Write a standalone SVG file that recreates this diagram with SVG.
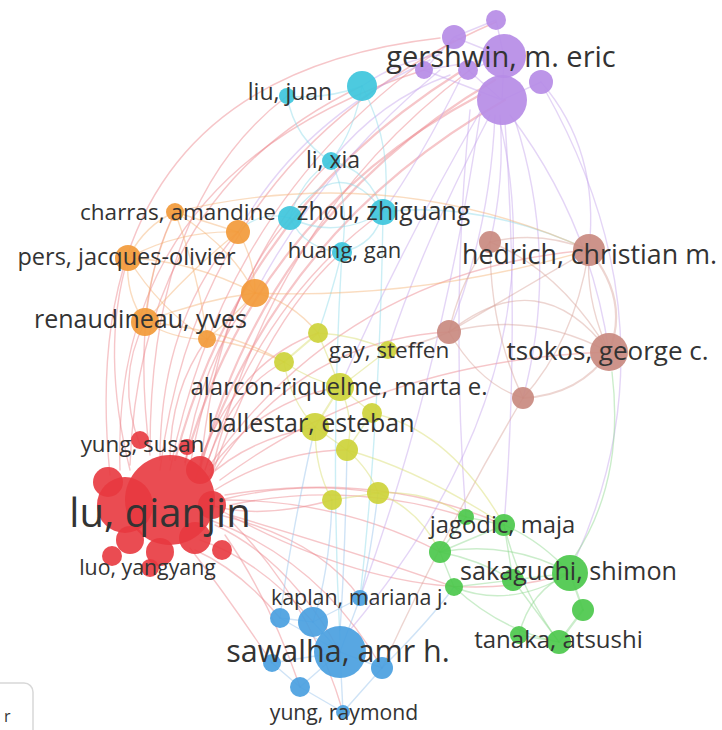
<svg xmlns="http://www.w3.org/2000/svg" width="722" height="730" viewBox="0 0 722 730">
<style>
  .e{fill:none;stroke-width:1.4;stroke-opacity:.45;stroke-linecap:round}
  .er{stroke:#ec8088}.ep{stroke:#c4a2ea}.ec{stroke:#8cdae8}.eo{stroke:#f4b274}
  .eb{stroke:#d8a29a}.ey{stroke:#d8dc6a}.eg{stroke:#8cd88c}.eu{stroke:#94c2ea}
  .w{stroke-width:2.2}
  .nr{fill:#e8393f;fill-opacity:.9}.np{fill:#b68ce6;fill-opacity:.92}.nc{fill:#3ec6dc;fill-opacity:.92}
  .no{fill:#f29a3a;fill-opacity:.92}.nb{fill:#c98a80;fill-opacity:.92}.ny{fill:#cdd33a;fill-opacity:.92}
  .ng{fill:#4cc84c;fill-opacity:.92}.nu{fill:#4a9fe0;fill-opacity:.92}
  text{font-family:"Open Sans","Liberation Sans",sans-serif;fill:#333333;text-anchor:middle}
</style>
<rect width="722" height="730" fill="#ffffff"/>
<g id="edges">
  <!-- red to purple -->
  <path class="e er w" d="M185 462 Q254 215 480 95"/>
  <path class="e er w" d="M200 470 Q265 215 495 80"/>
  <path class="e er w" d="M175 460 Q240 210 460 72"/>
  <path class="e er w" d="M195 480 Q275 230 505 100"/>
  <path class="e er" d="M210 478 Q270 220 470 70"/>
  <path class="e er" d="M170 470 Q225 190 454 40"/>
  <path class="e er" d="M160 470 Q200 150 496 22"/>
  <path class="e er" d="M110 475 Q70 80 440 38"/>
  <path class="e er" d="M120 470 Q110 170 424 70"/>
  <path class="e er" d="M130 465 Q140 190 362 86"/>
  <!-- red to cyan -->
  <path class="e er" d="M150 450 Q150 200 287 96"/>
  <path class="e er" d="M190 465 Q230 260 331 161"/>
  <path class="e er" d="M200 475 Q215 300 290 218"/>
  <path class="e er" d="M205 470 Q260 300 383 212"/>
  <path class="e er" d="M210 480 Q265 320 342 252"/>
  <!-- red to orange -->
  <path class="e er" d="M140 445 Q115 380 145 322"/>
  <path class="e er" d="M170 460 Q170 390 207 339"/>
  <path class="e er" d="M185 465 Q200 360 255 293"/>
  <path class="e er" d="M160 460 Q160 320 238 232"/>
  <path class="e er" d="M130 470 Q100 350 128 258"/>
  <path class="e er" d="M150 455 Q130 300 175 212"/>
  <!-- red to yellow -->
  <path class="e er" d="M205 480 Q245 440 315 427"/>
  <path class="e er" d="M210 470 Q260 400 340 387"/>
  <path class="e er" d="M200 460 Q240 360 318 333"/>
  <path class="e er" d="M205 470 Q230 390 284 362"/>
  <path class="e er" d="M215 490 Q280 450 347 450"/>
  <path class="e er" d="M220 500 Q300 480 378 493"/>
  <path class="e er" d="M210 505 Q260 520 332 500"/>
  <!-- red to brown -->
  <path class="e er" d="M215 470 Q300 340 449 332"/>
  <path class="e er" d="M220 480 Q380 360 609 352"/>
  <path class="e er" d="M210 465 Q350 270 589 250"/>
  <!-- red to blue -->
  <path class="e er" d="M215 525 Q290 560 340 652"/>
  <path class="e er" d="M200 540 Q260 560 313 622"/>
  <path class="e er" d="M195 550 Q240 570 280 618"/>
  <path class="e er" d="M225 535 Q270 600 300 687"/>
  <path class="e er" d="M210 520 Q320 560 382 668"/>
  <path class="e er" d="M220 515 Q320 540 360 598"/>
  <path class="e er" d="M190 548 Q230 600 272 663"/>
  <path class="e er" d="M230 520 Q310 600 343 712"/>
  <!-- red to green -->
  <path class="e er" d="M225 500 Q340 500 440 552"/>
  <path class="e er" d="M225 495 Q380 470 504 525"/>
  <path class="e er" d="M220 510 Q420 620 570 573"/>
  <path class="e er" d="M230 505 Q350 480 466 517"/>
  <path class="e er" d="M230 515 Q380 560 454 587"/>
  <!-- purple -->
  <path class="e ep" d="M496 20 L504 57 M454 37 L504 57 M424 70 L504 57 M468 70 L504 57 M504 57 L502 100 M541 82 L502 100 M424 70 L502 100 M468 70 L502 100 M454 37 L424 70 M496 20 L454 37"/>
  <path class="e ep" d="M510 115 Q590 220 609 352"/>
  <path class="e ep" d="M541 82 Q600 150 589 250"/>
  <path class="e ep" d="M500 115 Q505 180 490 242"/>
  <path class="e ep" d="M495 115 Q490 230 449 332"/>
  <path class="e ep" d="M515 120 Q560 260 523 398"/>
  <path class="e ep" d="M545 90 Q680 330 575 560"/>
  <path class="e ep" d="M470 110 Q450 310 466 517"/>
  <path class="e ep" d="M505 122 Q520 330 504 525"/>
  <path class="e ep" d="M500 122 Q560 380 350 630"/>
  <path class="e ep" d="M480 115 Q440 380 360 598"/>
  <path class="e ep" d="M490 115 Q420 250 388 350"/>
  <path class="e ep" d="M480 112 Q400 250 340 387"/>
  <path class="e ep" d="M440 55 Q400 60 362 86"/>
  <path class="e ep" d="M460 80 Q420 160 383 212"/>
  <path class="e ep" d="M450 75 Q380 100 331 161"/>
  <path class="e ep" d="M430 60 Q300 120 238 232"/>
  <path class="e ep" d="M440 70 Q320 170 255 293"/>
  <!-- cyan -->
  <path class="e ec" d="M287 96 Q325 100 362 86"/>
  <path class="e ec" d="M287 96 Q295 140 331 161"/>
  <path class="e ec" d="M362 86 Q355 130 331 161"/>
  <path class="e ec" d="M331 161 Q300 180 290 218"/>
  <path class="e ec" d="M331 161 Q370 170 383 212"/>
  <path class="e ec" d="M290 218 Q335 240 383 212"/>
  <path class="e ec" d="M290 218 Q305 250 342 252"/>
  <path class="e ec" d="M383 212 Q375 245 342 252"/>
  <path class="e ec" d="M362 86 Q395 150 383 212"/>
  <path class="e ec" d="M331 161 Q350 200 342 252"/>
  <path class="e ec" d="M290 218 Q340 150 383 212"/>
  <path class="e ec" d="M342 252 Q330 450 340 640"/>
  <path class="e ec" d="M383 212 Q380 420 360 598"/>
  <path class="e ec" d="M290 218 Q260 210 238 232"/>
  <path class="e ec" d="M383 212 Q480 200 589 250"/>
  <path class="e ec" d="M342 252 Q330 300 318 333"/>
  <!-- orange -->
  <path class="e eo" d="M175 212 L238 232"/>
  <path class="e eo" d="M175 212 Q145 225 128 258"/>
  <path class="e eo" d="M175 212 Q150 265 145 322"/>
  <path class="e eo" d="M128 258 Q125 295 145 322"/>
  <path class="e eo" d="M238 232 Q180 230 128 258"/>
  <path class="e eo" d="M238 232 Q190 270 145 322"/>
  <path class="e eo" d="M128 258 Q160 310 207 339"/>
  <path class="e eo" d="M145 322 Q175 340 207 339"/>
  <path class="e eo" d="M255 293 Q230 320 207 339"/>
  <path class="e eo" d="M238 232 Q255 260 255 293"/>
  <path class="e eo" d="M175 212 Q200 280 207 339"/>
  <path class="e eo" d="M255 293 Q200 300 145 322"/>
  <path class="e eo" d="M175 212 Q230 245 255 293"/>
  <path class="e eo" d="M128 258 Q190 260 255 293"/>
  <path class="e eo" d="M255 293 Q420 300 589 250"/>
  <path class="e eo" d="M175 212 Q390 160 589 250"/>
  <path class="e eo" d="M207 339 Q250 345 284 362"/>
  <path class="e eo" d="M255 293 Q290 300 318 333"/>
  <path class="e eo" d="M145 322 Q230 330 284 362"/>
  <!-- brown -->
  <path class="e eb" d="M490 242 Q540 230 589 250"/>
  <path class="e eb" d="M490 242 Q560 270 609 352"/>
  <path class="e eb w" d="M589 250 Q630 300 609 352"/>
  <path class="e eb" d="M589 250 Q585 300 609 352"/>
  <path class="e eb" d="M449 332 Q520 290 589 250"/>
  <path class="e eb" d="M449 332 Q530 310 609 352"/>
  <path class="e eb" d="M449 332 Q540 260 609 352"/>
  <path class="e eb" d="M449 332 Q480 385 523 398"/>
  <path class="e eb w" d="M523 398 Q580 395 609 352"/>
  <path class="e eb" d="M490 242 Q490 330 523 398"/>
  <path class="e eb" d="M589 250 Q575 340 523 398"/>
  <path class="e eb" d="M490 242 Q460 280 449 332"/>
  <path class="e eb" d="M449 332 Q420 345 388 350"/>
  <path class="e eb" d="M523 398 Q450 520 382 668"/>
  <!-- yellow -->
  <path class="e ey w" d="M318 333 L284 362"/>
  <path class="e ey" d="M318 333 L340 387"/>
  <path class="e ey" d="M284 362 Q310 380 340 387"/>
  <path class="e ey" d="M388 350 L340 387"/>
  <path class="e ey w" d="M340 387 L315 427"/>
  <path class="e ey" d="M340 387 L372 413"/>
  <path class="e ey" d="M315 427 L347 450"/>
  <path class="e ey" d="M372 413 L347 450"/>
  <path class="e ey" d="M347 450 Q370 470 378 493"/>
  <path class="e ey" d="M332 500 L378 493"/>
  <path class="e ey" d="M315 427 Q315 470 332 500"/>
  <path class="e ey" d="M340 387 Q355 420 347 450"/>
  <path class="e ey" d="M284 362 Q290 400 315 427"/>
  <path class="e ey" d="M318 333 Q355 335 388 350"/>
  <path class="e ey" d="M378 493 Q420 510 440 552"/>
  <path class="e ey" d="M378 493 Q430 490 466 517"/>
  <path class="e ey" d="M347 450 Q420 470 504 525"/>
  <path class="e ey" d="M372 413 Q450 430 504 525"/>
  <!-- green -->
  <path class="e eg" d="M466 517 L504 525"/>
  <path class="e eg" d="M466 517 L440 552"/>
  <path class="e eg" d="M504 525 L440 552"/>
  <path class="e eg" d="M440 552 Q480 560 513 580"/>
  <path class="e eg" d="M504 525 L513 580"/>
  <path class="e eg" d="M513 580 L570 573"/>
  <path class="e eg" d="M440 552 L454 587"/>
  <path class="e eg" d="M454 587 L513 580"/>
  <path class="e eg w" d="M570 573 L583 610"/>
  <path class="e eg w" d="M583 610 L559 642"/>
  <path class="e eg" d="M519 635 L559 642"/>
  <path class="e eg" d="M513 580 L559 642"/>
  <path class="e eg" d="M570 573 Q530 590 519 635"/>
  <path class="e eg" d="M504 525 Q540 540 570 573"/>
  <path class="e eg" d="M454 587 Q500 630 559 642"/>
  <path class="e eg" d="M504 525 Q520 590 559 642"/>
  <path class="e eg" d="M440 552 Q510 540 570 573"/>
  <path class="e eg" d="M454 587 Q510 610 570 573"/>
  <path class="e eg" d="M612 372 Q625 480 575 556"/>
  <!-- blue -->
  <path class="e eu" d="M360 598 L340 652"/>
  <path class="e eu" d="M280 618 L313 622"/>
  <path class="e eu" d="M313 622 L340 652"/>
  <path class="e eu" d="M280 618 L340 652"/>
  <path class="e eu" d="M340 652 L272 663"/>
  <path class="e eu" d="M340 652 L382 668"/>
  <path class="e eu" d="M340 652 L300 687"/>
  <path class="e eu" d="M300 687 L343 712"/>
  <path class="e eu" d="M340 652 L343 712"/>
  <path class="e eu" d="M272 663 L300 687"/>
  <path class="e eu" d="M382 668 L343 712"/>
  <path class="e eu" d="M360 598 L313 622"/>
  <path class="e eu" d="M332 500 Q330 570 313 622"/>
  <path class="e eu" d="M347 450 Q345 560 340 630"/>
  <path class="e eu" d="M378 493 Q370 560 360 598"/>
  <path class="e eu" d="M315 427 Q290 540 280 618"/>
  <path class="e eu" d="M382 668 Q430 620 454 587"/>
</g>

<g id="bottom-widget">
  <rect x="-20" y="683" width="53" height="70" rx="9" fill="#ffffff" stroke="#d8d8d8" stroke-width="1.5"/>
  <text x="4" y="722" font-size="16" style="text-anchor:start">r</text>
</g>

<g id="n-purple-other">
  <circle class="np" cx="496" cy="20" r="10"/>
  <circle class="np" cx="454" cy="37" r="12"/>
  <circle class="np" cx="424" cy="70" r="9"/>
  <circle class="np" cx="468" cy="70" r="10"/>
  <circle class="np" cx="541" cy="82" r="12"/>
  <circle class="np" cx="502" cy="100" r="25"/>
</g>
<g id="n-gershwin">
  <circle class="np" cx="504" cy="56" r="22"/>
  <text x="501" y="67" font-size="29">gershwin, m. eric</text>
</g>

<g id="n-cyan-other">
  <circle class="nc" cx="362" cy="86" r="15"/>
  <circle class="nc" cx="290" cy="218" r="12"/>
</g>
<g id="n-liu-juan">
  <circle class="nc" cx="287" cy="96" r="8"/>
  <text x="290" y="100" font-size="23">liu, juan</text>
</g>
<g id="n-li-xia">
  <circle class="nc" cx="331" cy="161" r="9"/>
  <text x="333" y="168" font-size="23">li, xia</text>
</g>
<g id="n-zhou-zhiguang">
  <circle class="nc" cx="383" cy="212" r="13"/>
  <text x="383.5" y="220" font-size="24.7">zhou, zhiguang</text>
</g>
<g id="n-huang-gan">
  <circle class="nc" cx="342" cy="252" r="10"/>
  <text x="344.5" y="258" font-size="22">huang, gan</text>
</g>

<g id="n-orange-other">
  <circle class="no" cx="238" cy="232" r="12"/>
  <circle class="no" cx="255" cy="293" r="14"/>
  <circle class="no" cx="207" cy="339" r="9"/>
</g>
<g id="n-charras">
  <circle class="no" cx="175" cy="212" r="9"/>
  <text x="178" y="220" font-size="22.5">charras, amandine</text>
</g>
<g id="n-pers">
  <circle class="no" cx="128" cy="258" r="13"/>
  <text x="126.5" y="265" font-size="23.5">pers, jacques-olivier</text>
</g>
<g id="n-renaudineau">
  <circle class="no" cx="145" cy="322" r="14"/>
  <text x="140.5" y="328" font-size="25">renaudineau, yves</text>
</g>

<g id="n-brown-other">
  <circle class="nb" cx="490" cy="242" r="11"/>
  <circle class="nb" cx="449" cy="332" r="12"/>
  <circle class="nb" cx="523" cy="398" r="11"/>
</g>
<g id="n-hedrich">
  <circle class="nb" cx="589" cy="250" r="16"/>
  <text x="589.5" y="264" font-size="26.8">hedrich, christian m.</text>
</g>
<g id="n-tsokos">
  <circle class="nb" cx="609" cy="352" r="19"/>
  <text x="607.5" y="360" font-size="26">tsokos, george c.</text>
</g>

<g id="n-yellow-other">
  <circle class="ny" cx="318" cy="333" r="10"/>
  <circle class="ny" cx="284" cy="362" r="10"/>
  <circle class="ny" cx="372" cy="413" r="10"/>
  <circle class="ny" cx="347" cy="450" r="11"/>
  <circle class="ny" cx="332" cy="500" r="10"/>
  <circle class="ny" cx="378" cy="493" r="11"/>
</g>
<g id="n-gay">
  <circle class="ny" cx="388" cy="350" r="9"/>
  <text x="389" y="358" font-size="22.5">gay, steffen</text>
</g>
<g id="n-alarcon">
  <circle class="ny" cx="340" cy="387" r="14"/>
  <text x="339" y="395" font-size="24">alarcon-riquelme, marta e.</text>
</g>
<g id="n-ballestar">
  <circle class="ny" cx="315" cy="427" r="14"/>
  <text x="311" y="432" font-size="25">ballestar, esteban</text>
</g>

<g id="n-red-other">
  <circle class="nr" cx="187" cy="447" r="8"/>
  <circle class="nr" cx="125" cy="505" r="28"/>
  <circle class="nr" cx="108" cy="482" r="15"/>
  <circle class="nr" cx="200" cy="470" r="14"/>
  <circle class="nr" cx="130" cy="540" r="14"/>
  <circle class="nr" cx="195" cy="538" r="16"/>
  <circle class="nr" cx="160" cy="552" r="14"/>
  <circle class="nr" cx="112" cy="556" r="10"/>
  <circle class="nr" cx="222" cy="550" r="10"/>
  <circle class="nr" cx="212" cy="505" r="14"/>
</g>
<g id="n-yung-susan">
  <circle class="nr" cx="140" cy="440" r="9"/>
  <text x="142.5" y="452" font-size="22.4">yung, susan</text>
</g>
<g id="n-lu-qianjin">
  <circle class="nr" cx="170" cy="500" r="45"/>
  <text x="160" y="527" font-size="40">lu, qianjin</text>
</g>
<g id="n-luo-yangyang">
  <circle class="nr" cx="150" cy="568" r="9"/>
  <text x="147.5" y="575" font-size="21.3">luo, yangyang</text>
</g>

<g id="n-blue-other">
  <circle class="nu" cx="280" cy="618" r="10"/>
  <circle class="nu" cx="313" cy="622" r="15"/>
  <circle class="nu" cx="272" cy="663" r="9"/>
  <circle class="nu" cx="382" cy="668" r="11"/>
  <circle class="nu" cx="300" cy="687" r="10"/>
</g>
<g id="n-kaplan">
  <circle class="nu" cx="360" cy="598" r="8"/>
  <text x="359.5" y="605" font-size="21.4">kaplan, mariana j.</text>
</g>
<g id="n-sawalha">
  <circle class="nu" cx="340" cy="652" r="26"/>
  <text x="338" y="662" font-size="30.5">sawalha, amr h.</text>
</g>
<g id="n-yung-raymond">
  <circle class="nu" cx="343" cy="712" r="7"/>
  <text x="344" y="720" font-size="21.2">yung, raymond</text>
</g>

<g id="n-green-other">
  <circle class="ng" cx="466" cy="517" r="8"/>
  <circle class="ng" cx="440" cy="552" r="11"/>
  <circle class="ng" cx="454" cy="587" r="9"/>
  <circle class="ng" cx="513" cy="580" r="11"/>
  <circle class="ng" cx="583" cy="610" r="11"/>
  <circle class="ng" cx="519" cy="635" r="9"/>
</g>
<g id="n-jagodic">
  <circle class="ng" cx="504" cy="525" r="11"/>
  <text x="502.5" y="533" font-size="23.8">jagodic, maja</text>
</g>
<g id="n-sakaguchi">
  <circle class="ng" cx="570" cy="573" r="18"/>
  <text x="568.5" y="580" font-size="25.2">sakaguchi, shimon</text>
</g>
<g id="n-tanaka">
  <circle class="ng" cx="559" cy="642" r="12"/>
  <text x="558.5" y="648" font-size="24">tanaka, atsushi</text>
</g>
</svg>
